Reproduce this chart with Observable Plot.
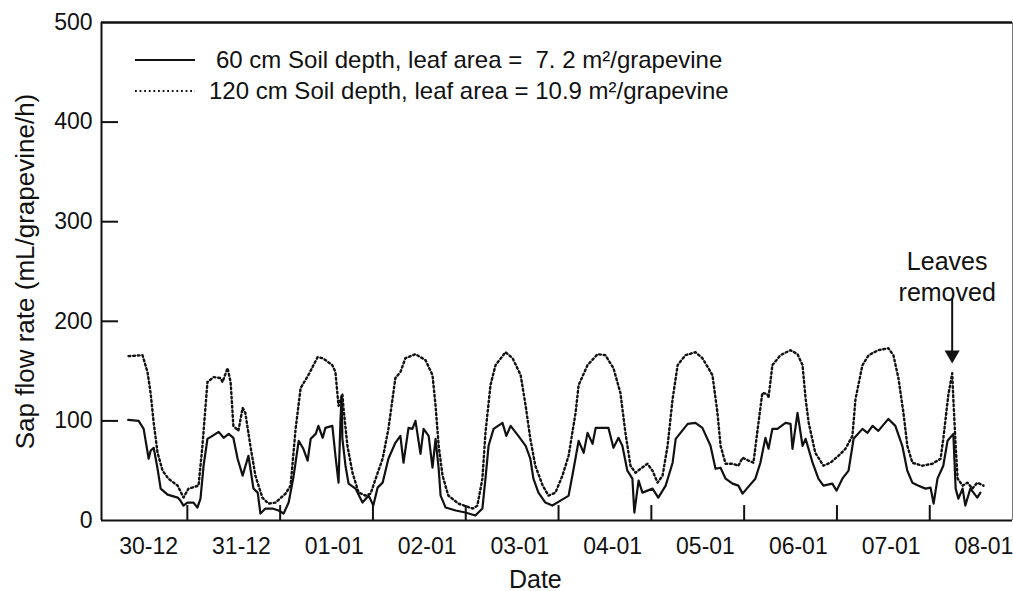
<!DOCTYPE html>
<html>
<head>
<meta charset="utf-8">
<script src="https://cdn.jsdelivr.net/npm/d3@7"></script>
<script src="https://cdn.jsdelivr.net/npm/@observablehq/plot@0.6"></script>
<style>
  html, body { margin: 0; padding: 0; background: #fff; }
  #chart { width: 1013px; height: 591px; }
</style>
</head>
<body>
<div id="chart"></div>
<script>
// Hourly sap flow, x = hours since 30-12 00:00, y = mL/grapevine/h
const series60 = [
  [8.7,101],[11.4,100],[12.7,92],[14.0,62],[14.5,70],[15.3,73],[16.3,52],[17.1,32],[18.9,26],[21.5,23],[22.2,20],[23.0,15],[24.0,18],[25.6,18],[26.6,13],[27.4,22],[28.2,55],[29.2,82],[30.5,85],[32.1,89],[33.4,83],[34.7,87],[35.9,83],[37.0,62],[38.3,45],[39.8,65],[41.1,32],[42.2,28],[42.9,7],[44.2,12],[46.0,12],[47.6,10],[48.9,7],[50.2,18],[51.5,45],[52.8,80],[54.0,72],[55.1,60],[55.9,82],[57.2,87],[57.9,95],[59.0,83],[59.7,93],[61.5,95],[62.3,65],[63.1,38],[63.6,100],[63.9,125],[64.1,82],[64.9,55],[65.7,37],[67.5,32],[69.3,18],[70.9,25],[72.1,15],[73.2,33],[74.5,38],[76.0,62],[77.8,78],[79.1,85],[79.9,58],[81.2,93],[82.2,92],[83.0,100],[84.3,67],[85.1,92],[86.4,85],[87.4,53],[88.2,82],[89.0,52],[89.5,25],[90.8,13],[93.4,10],[95.9,8],[98.5,5],[100.3,12],[101.1,42],[101.9,75],[103.2,92],[105.5,98],[106.5,85],[107.6,95],[109.6,85],[111.5,75],[112.7,62],[113.5,42],[114.8,28],[116.6,18],[118.4,15],[120.5,20],[121.8,23],[122.6,25],[123.9,52],[125.2,80],[126.5,68],[127.5,88],[128.8,77],[129.6,93],[132.9,93],[134.2,73],[135.5,83],[136.5,75],[137.8,50],[139.1,42],[139.6,8],[140.7,40],[141.7,28],[144.3,32],[145.8,23],[147.7,35],[149.5,58],[150.3,82],[153.4,97],[155.4,98],[157.2,93],[159.3,75],[160.6,52],[161.9,53],[163.2,42],[165.0,37],[166.5,35],[167.6,27],[168.9,33],[170.9,42],[172.2,58],[173.5,83],[174.3,72],[175.3,92],[176.6,92],[178.7,98],[180.0,97],[180.5,72],[181.8,108],[183.1,75],[183.9,82],[185.7,58],[187.2,42],[188.5,35],[190.8,37],[191.9,30],[193.4,42],[195.0,50],[196.3,82],[198.6,92],[199.9,88],[201.2,95],[202.7,90],[205.3,102],[207.1,95],[208.9,75],[210.2,50],[211.5,38],[213.1,35],[214.9,32],[216.2,33],[217.0,17],[218.0,42],[219.5,55],[220.6,80],[222.1,87],[222.7,32],[223.4,22],[224.5,32],[225.2,15],[226.5,32],[227.3,28],[228.3,23],[229.1,28]
];

const series120 = [
  [8.8,165],[12.4,166],[13.7,149],[14.5,128],[15.3,98],[16.3,68],[17.6,50],[19.1,42],[21.5,35],[23.0,23],[24.3,32],[26.9,35],[27.9,75],[29.2,139],[30.8,144],[32.6,143],[33.1,139],[34.4,153],[35.2,139],[35.9,95],[37.2,90],[38.3,113],[39.0,108],[40.3,75],[41.6,45],[43.4,23],[45.0,17],[46.8,18],[49.4,27],[50.7,35],[52.0,92],[53.3,133],[55.3,146],[57.7,164],[59.0,163],[61.5,156],[62.3,149],[63.1,115],[64.1,127],[64.4,112],[65.4,75],[66.7,48],[68.3,28],[70.1,25],[71.4,27],[72.7,42],[74.5,62],[76.0,92],[77.8,143],[79.1,149],[80.4,163],[83.0,167],[85.6,161],[87.4,146],[88.2,115],[89.0,75],[90.0,45],[91.5,25],[94.1,17],[97.8,12],[99.0,15],[100.3,42],[101.1,88],[102.4,136],[103.7,156],[106.3,169],[108.1,163],[110.2,146],[111.5,115],[112.7,82],[114.0,55],[115.9,35],[117.4,25],[119.2,28],[121.0,45],[122.6,65],[124.4,108],[125.2,136],[127.5,156],[130.1,167],[132.1,166],[134.2,153],[136.0,128],[137.3,88],[138.6,55],[139.9,48],[141.2,52],[143.0,57],[144.3,50],[145.6,38],[146.9,45],[148.2,75],[149.5,122],[150.8,156],[152.8,166],[155.4,169],[157.2,163],[159.8,146],[161.1,108],[161.9,75],[163.2,57],[165.0,57],[166.5,55],[167.6,63],[169.2,60],[170.4,58],[171.7,98],[172.7,128],[174.0,127],[174.3,123],[175.3,156],[177.4,166],[180.0,171],[181.8,167],[183.1,156],[183.9,122],[184.7,98],[186.4,68],[188.5,55],[190.3,58],[192.4,65],[194.2,72],[196.0,85],[196.8,122],[198.6,156],[200.2,166],[202.7,171],[205.3,173],[206.6,166],[207.9,143],[209.2,108],[210.2,75],[211.5,58],[214.1,55],[216.7,57],[218.8,62],[219.5,82],[220.8,126],[221.8,148],[222.1,122],[222.7,75],[223.2,42],[224.5,35],[225.8,38],[227.0,32],[228.3,38],[229.9,35]
];

// Axis ticks and labels
const yTicks = [0, 100, 200, 300, 400, 500];
const dayBoundaries = [24, 48, 72, 96, 120, 144, 168, 192, 216];
const dayLabels = ["30-12", "31-12", "01-01", "02-01", "03-01", "04-01", "05-01", "06-01", "07-01", "08-01"];
const labelHours = dayLabels.map((_, i) => i * 24 + 14);
const labelByHour = new Map(labelHours.map((h, i) => [h, dayLabels[i]]));

const dotted = "1.8,2.8";
const legendEntries = [
  {label: "60 cm Soil depth, leaf area =  7. 2 m²/grapevine", dash: null},
  {label: "120 cm Soil depth, leaf area = 10.9 m²/grapevine", dash: dotted}
];

// Defoliation event on the last day: dotted-series peak it points at
const leafRemoval = [{hour: 221.8, peak: 148, text: "Leaves\nremoved"}];
const dateLabelHour = 114;

const xDomain = [1.8, 237.4];
const toRows = (s) => s.map(([hour, value]) => ({hour, value}));

const chart = Plot.plot({
  width: 1013,
  height: 591,
  marginTop: 22,
  marginBottom: 71,
  marginLeft: 101,
  marginRight: 1,
  style: {fontFamily: "'Liberation Sans', Arial, sans-serif", fontSize: "23px", color: "#111", background: "#fff"},
  x: {domain: xDomain},
  y: {domain: [0, 500]},
  marks: [
    Plot.axisY(yTicks, {tickSize: 0, tickPadding: 9, fontSize: 23, label: null}),
    Plot.axisX(labelHours, {tickSize: 0, tickPadding: 17, fontSize: 23, label: null, tickFormat: (d) => labelByHour.get(d)}),
    // inward tick marks
    Plot.ruleY(yTicks.filter((v) => v > 0 && v < 500), {x1: xDomain[0], x2: xDomain[0] + 4.4, strokeWidth: 2}),
    Plot.ruleX(dayBoundaries, {y1: 0, y2: 15, strokeWidth: 2}),
    // frame
    Plot.ruleY([0], {strokeWidth: 2}),
    Plot.ruleY([500], {strokeWidth: 2.5}),
    Plot.ruleX([xDomain[0]], {strokeWidth: 2}),
    Plot.ruleX([xDomain[1]], {stroke: "#777", strokeWidth: 1}),
    // series
    Plot.line(toRows(series120), {x: "hour", y: "value", stroke: "#111", strokeWidth: 2.4, strokeDasharray: dotted}),
    Plot.line(toRows(series60), {x: "hour", y: "value", stroke: "#111", strokeWidth: 2.2, strokeLinejoin: "round"}),
    // annotation arrow
    Plot.ruleX(leafRemoval, {x: "hour", y1: (d) => d.peak + 21, y2: (d) => d.peak + 75, strokeWidth: 2}),
    Plot.dot(leafRemoval, {x: "hour", y: (d) => d.peak + 18.4, symbol: "triangle", r: 5.6, fill: "#111", stroke: "none", rotate: 180}),
    Plot.text(leafRemoval, {x: "hour", y: (d) => d.peak + 72, text: "text", dx: -5, fontSize: 25, lineAnchor: "bottom", lineHeight: 1.24, fill: "#111"}),
    // axis titles
    Plot.text(["Sap flow rate (mL/grapevine/h)"], {frameAnchor: "left", rotate: -90, dx: -76, fontSize: 26, textAnchor: "middle", lineAnchor: "middle", fill: "#111"}),
    Plot.text(["Date"], {x: () => dateLabelHour, frameAnchor: "bottom", dy: 59, fontSize: 25, lineAnchor: "middle", fill: "#111"})
  ]
});

// Legend drawn inside the plot area, top-left
const legend = d3.select(chart).append("g")
  .attr("font-family", "'Liberation Sans', Arial, sans-serif")
  .attr("font-size", 24)
  .attr("text-anchor", "start")
  .attr("fill", "#111");
const rowY = [60, 91];
const textX = [216, 209];
legendEntries.forEach((e, i) => {
  legend.append("line")
    .attr("x1", 135).attr("x2", 195)
    .attr("y1", rowY[i]).attr("y2", rowY[i])
    .attr("stroke", "#111")
    .attr("stroke-width", 2.2)
    .attr("stroke-dasharray", e.dash);
  legend.append("text")
    .attr("x", textX[i])
    .attr("y", rowY[i] + 7.5)
    .attr("text-anchor", "start")
    .style("white-space", "pre")
    .text(e.label);
});

document.getElementById("chart").appendChild(chart);
</script>
</body>
</html>
